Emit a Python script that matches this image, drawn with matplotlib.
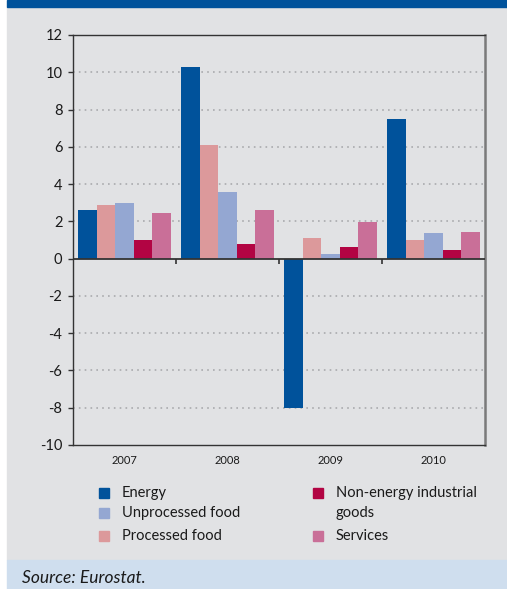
import matplotlib.pyplot as plt
from matplotlib.patches import Rectangle

plt.rcParams['font.family'] = ['Lato', 'DejaVu Sans']
plt.rcParams['axes.unicode_minus'] = False

years = ["2007", "2008", "2009", "2010"]
energy = [2.6, 10.3, -8.0, 7.5]
processed_food = [2.9, 6.1, 1.1, 1.0]
unprocessed_food = [3.0, 3.6, 0.25, 1.35]
non_energy_goods = [1.0, 0.8, 0.6, 0.45]
services = [2.45, 2.6, 1.95, 1.45]

# bar order inside each year group
series = [
    ("Energy", energy, "#00529b"),
    ("Processed food", processed_food, "#dc999b"),
    ("Unprocessed food", unprocessed_food, "#94a7d2"),
    ("Non-energy industrial\ngoods", non_energy_goods, "#b20443"),
    ("Services", services, "#c96f98"),
]
# legend reads down the first column, then the second
legend_order = [0, 2, 1, 3, 4]

W, H = 507, 589
fig = plt.figure(figsize=(W / 100, H / 100), dpi=100)
fig.patch.set_facecolor("white")


def fx(px):
    return px / W


def fy(py):
    return 1 - py / H


# panel background, header strip and source strip
fig.patches.append(Rectangle((fx(7), fy(560)), 1 - fx(7), fy(7) - fy(560),
                             transform=fig.transFigure, color="#e1e2e4", zorder=-2))
fig.patches.append(Rectangle((fx(7), fy(7)), 1 - fx(7), 1 - fy(7),
                             transform=fig.transFigure, color="#00529b", zorder=-2))
fig.patches.append(Rectangle((fx(7), 0), 1 - fx(7), fy(560),
                             transform=fig.transFigure, color="#cfdeee", zorder=-2))

ax = fig.add_axes([fx(73), fy(445), fx(485) - fx(73), fy(35) - fy(445)])
ax.set_facecolor("none")
ax.set_zorder(2)

width = 0.18
for k, (name, vals, color) in enumerate(series):
    xs = [i + 0.5 + (k - 2) * width for i in range(len(years))]
    ax.bar(xs, vals, width=width, color=color, zorder=3, linewidth=0)

ax.set_xlim(0, len(years))
ax.set_ylim(-10, 12)
ax.set_yticks(range(-10, 13, 2))
ax.set_xticks([i + 0.5 for i in range(len(years))])
ax.set_xticklabels(years)

for y in range(-8, 12, 2):
    if y != 0:
        ax.axhline(y, color="#a9aaad", lw=1.2, ls=(0, (1, 2.5)), zorder=1)
ax.axhline(0, color="#333333", lw=1.3, zorder=4)
# group separators hanging under the zero line
ax.vlines(range(1, len(years)), -0.3, 0, color="#333333", lw=1.2, zorder=4)

for side in ["left", "top", "bottom"]:
    ax.spines[side].set_color("#333333")
    ax.spines[side].set_linewidth(1.0)
ax.spines["right"].set_color("#7a7a7a")
ax.spines["right"].set_linewidth(1.8)

ax.tick_params(axis="y", length=3.6, width=1, color="#333333", pad=4,
               labelsize=10.5, labelcolor="#1a1a1a")
ax.tick_params(axis="x", length=0, pad=7, labelsize=8, labelcolor="#1a1a1a")

# legend, two columns
rows = [493, 513, 536]
slots = [(99, rows[0]), (99, rows[1]), (99, rows[2]), (313, rows[0]), (313, rows[2])]
for (px, py), idx in zip(slots, legend_order):
    name, _, color = series[idx]
    fig.patches.append(Rectangle((fx(px), fy(py + 5)), fx(10), fy(0) - fy(10),
                                 transform=fig.transFigure, color=color, zorder=2))
    lines = name.split("\n")
    for j, line in enumerate(lines):
        fig.text(fx(px + 23), fy(py + j * 20), line, fontsize=10.5,
                 color="#1a1a1a", va="center", ha="left")

fig.text(fx(22), fy(578), "Source: Eurostat.", fontsize=12.5, style="italic",
         color="#1a1a1a", va="center", ha="left")

fig.savefig("out.png", dpi=100)
